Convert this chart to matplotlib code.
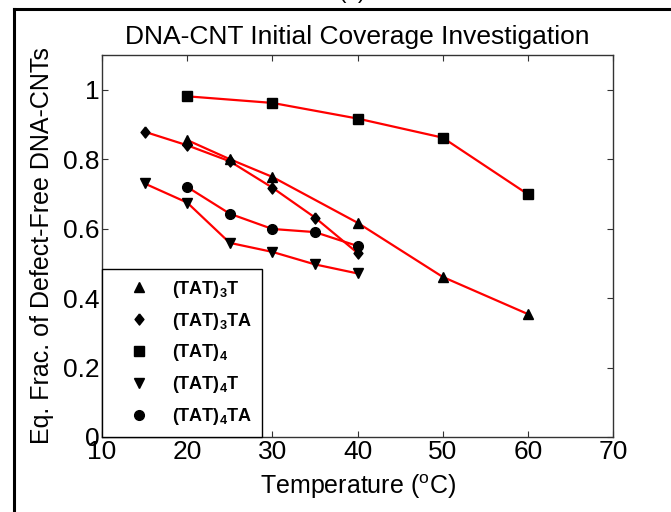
import matplotlib.pyplot as plt
from matplotlib.lines import Line2D

plt.rcParams['font.family'] = ['Liberation Sans', 'DejaVu Sans']
plt.rcParams['mathtext.fontset'] = 'custom'
plt.rcParams['mathtext.rm'] = 'Liberation Sans'
plt.rcParams['mathtext.bf'] = 'Liberation Sans:bold'

# data
t_tat3t = [20, 25, 30, 40, 50, 60]
y_tat3t = [0.855, 0.80, 0.749, 0.617, 0.461, 0.354]
t_tat3ta = [15, 20, 25, 30, 35, 40]
y_tat3ta = [0.879, 0.840, 0.794, 0.718, 0.632, 0.530]
t_tat4 = [20, 30, 40, 50, 60]
y_tat4 = [0.981, 0.962, 0.917, 0.862, 0.699]
t_tat4t = [15, 20, 25, 30, 35, 40]
y_tat4t = [0.730, 0.675, 0.559, 0.533, 0.497, 0.471]
t_tat4ta = [20, 25, 30, 35, 40]
y_tat4ta = [0.720, 0.643, 0.599, 0.590, 0.550]

labels = [r'$\mathbf{(TAT)_3T}$', r'$\mathbf{(TAT)_3TA}$', r'$\mathbf{(TAT)_4}$',
          r'$\mathbf{(TAT)_4T}$', r'$\mathbf{(TAT)_4TA}$']
diamond = [(0, 1), (0.8, 0), (0, -1), (-0.8, 0), (0, 1)]
markers = ['^', diamond, 's', 'v', 'o']
sizes = [7.5, 8, 6.5, 7.5, 7]

fig = plt.figure(figsize=(6.71, 5.12), dpi=100)
ax = fig.add_axes([0.152, 0.1465, 0.7616, 0.7461])

series = [(t_tat3t, y_tat3t), (t_tat3ta, y_tat3ta), (t_tat4, y_tat4),
          (t_tat4t, y_tat4t), (t_tat4ta, y_tat4ta)]
handles = []
for (t, y), m, ms, lab in zip(series, markers, sizes, labels):
    ax.plot(t, y, color='red', lw=1.6, zorder=2)
    ax.plot(t, y, ls='none', marker=m, ms=ms, color='black', zorder=3)
    handles.append(Line2D([], [], ls='none', marker=m, ms=ms, color='black', label=lab))

ax.set_xlim(10, 70)
ax.set_ylim(0, 1.1)
ax.set_xticks([10, 20, 30, 40, 50, 60, 70])
ax.set_yticks([0, 0.2, 0.4, 0.6, 0.8, 1])
ax.set_yticklabels(['0', '0.2', '0.4', '0.6', '0.8', '1'])
ax.tick_params(direction='in', top=True, right=True, length=4, width=0.8,
               labelsize=19, color='#333333', pad=2)
for s in ax.spines.values():
    s.set_color('#333333')
    s.set_linewidth(1.0)

ax.set_title('DNA-CNT Initial Coverage Investigation', fontsize=19, pad=8)
ax.set_xlabel(r'Temperature ($^{\rm o}$C)', fontsize=18, labelpad=6)
ax.set_ylabel('Eq. Frac. of Defect-Free DNA-CNTs', fontsize=18, labelpad=6)

leg = ax.legend(handles=handles, loc='lower left', bbox_to_anchor=(0, 0),
                borderaxespad=0, fancybox=False, framealpha=1, edgecolor='black',
                fontsize=13, handlelength=3.0, handletextpad=0.3,
                labelspacing=0.6, borderpad=0.55)
leg.get_frame().set_linewidth(1.0)

# outer frame and cut-off panel label
fig.add_artist(Line2D([0.021, 0.021], [0, 0.982], color='black', lw=2.2,
                      transform=fig.transFigure))
fig.add_artist(Line2D([0.021, 1.0], [0.982, 0.982], color='black', lw=2.2,
                      transform=fig.transFigure))
fig.text(0.525, 1.014, '(a)', fontsize=16, ha='center', va='center')

fig.savefig('out.png', dpi=100)
